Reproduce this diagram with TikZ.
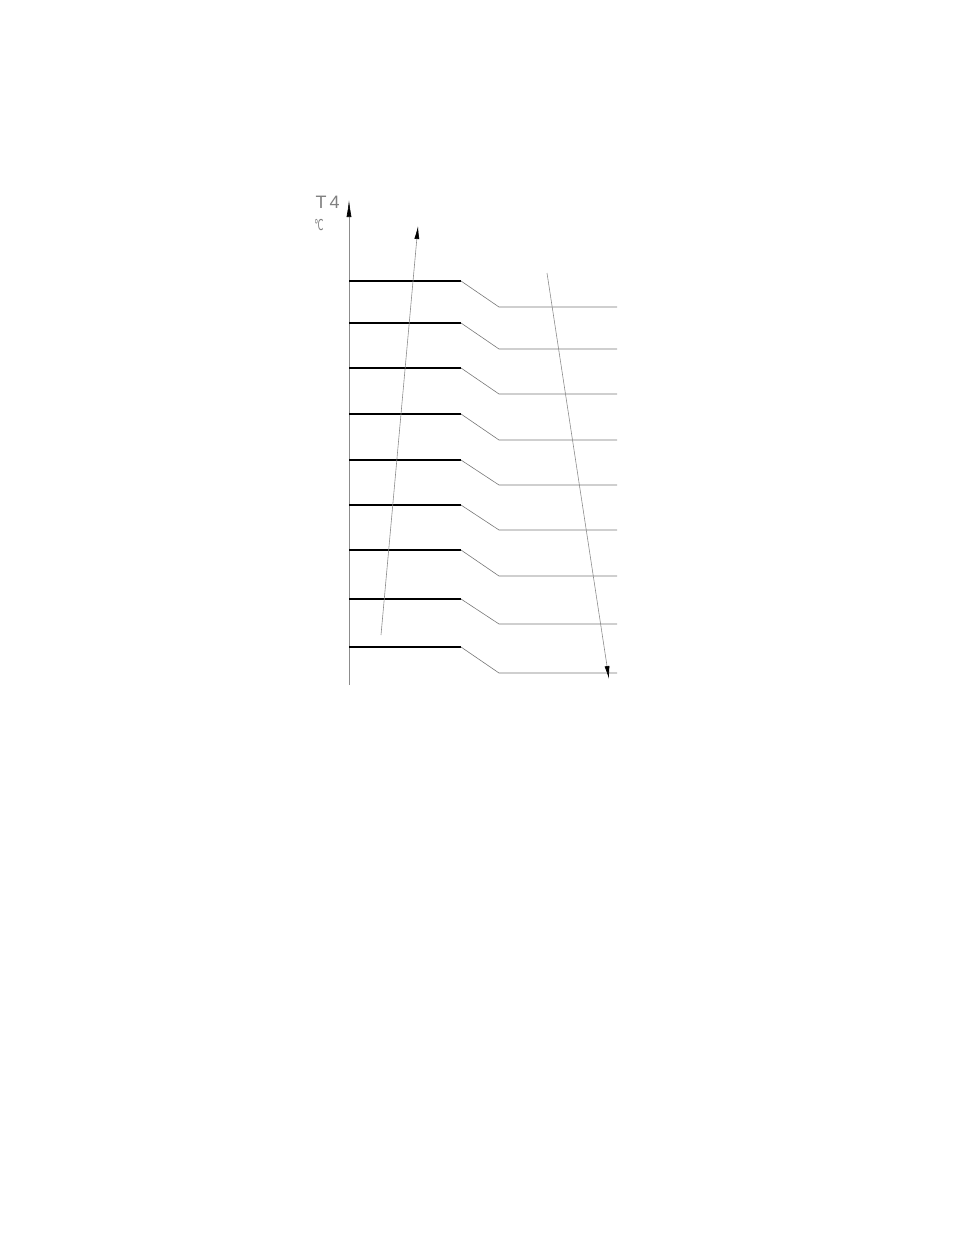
\documentclass[tikz,border=0pt]{standalone}
\usepackage{fontspec}
\setmainfont{Liberation Sans}
\newfontfamily\symfont{DejaVu Sans}
\usepackage{tikz}
\usetikzlibrary{arrows.meta}
\definecolor{axisgray}{RGB}{140,140,140}
\definecolor{stepgray}{RGB}{120,120,120}

\begin{document}
\begin{tikzpicture}[x=1pt, y=-1pt,
    level/.style={black, line width=1.1pt},
    drop/.style={stepgray, line width=0.6pt},
    trend/.style={axisgray, line width=0.6pt, -{Latex[length=13pt, width=5pt, color=black, fill=black]}}]
    % Page frame
    \useasboundingbox (0,0) rectangle (954,1235);

    % Temperature axis
    \coordinate (axisbot) at (349,685);
    \coordinate (axistop) at (349,200);
    \draw[axisgray, line width=0.6pt, -{Latex[length=17pt, width=5pt, color=black, fill=black]}] (axisbot) -- (axistop);
    \node[gray, font=\fontsize{18}{18}\selectfont, anchor=base west, inner sep=0pt] (tlabel) at (315.5,208) {T\,4};
    \node[gray, font=\symfont\fontsize{15}{15}\selectfont, inner sep=0pt, xscale=0.55] (unit) at (319,225) {℃};

    % Temperature steps
    \foreach \hi/\lo in {281/307, 323/349, 368/394, 414/440, 460/485, 505/530, 550/576, 599/624, 647/673} {
        \draw[level] (349,\hi) -- (461,\hi);
        \draw[drop] (461,\hi) -- (499,\lo) -- (617,\lo);
    }

    % Trend arrows
    \coordinate (upstart) at (381,635);
    \coordinate (upend) at (418,226);
    \coordinate (downstart) at (547,273);
    \coordinate (downend) at (609,679);
    \draw[trend] (upstart) -- (upend);
    \draw[trend] (downstart) -- (downend);

\end{tikzpicture}
\end{document}
